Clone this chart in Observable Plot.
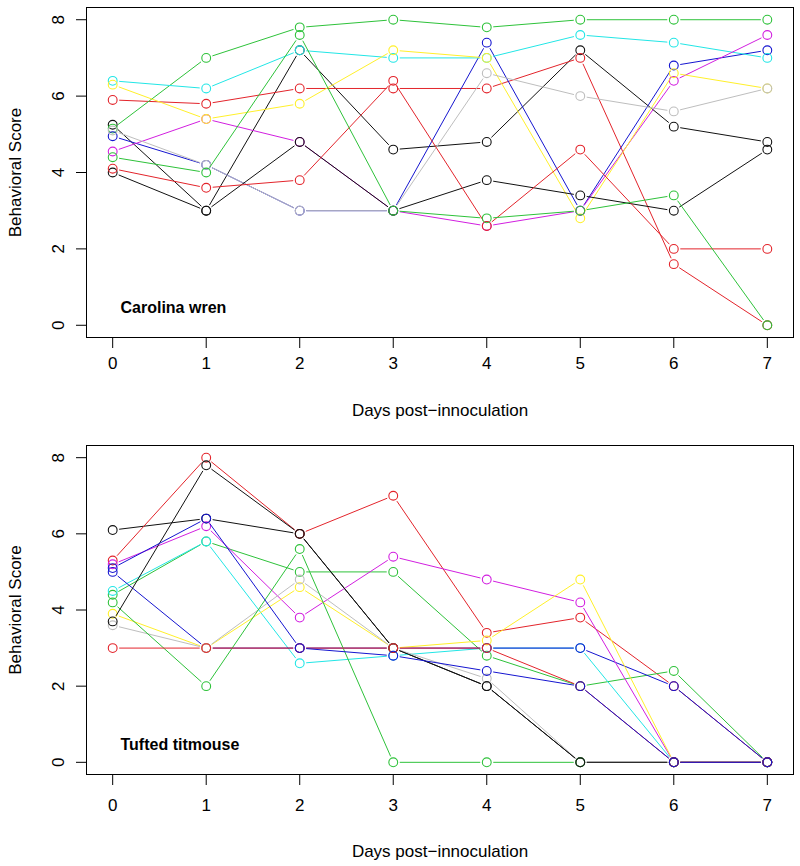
<!DOCTYPE html>
<html>
<head>
<meta charset="utf-8">
<script src="https://cdn.jsdelivr.net/npm/d3@7"></script>
<script src="https://cdn.jsdelivr.net/npm/@observablehq/plot@0.6"></script>
<style>
  html, body { margin: 0; padding: 0; background: #ffffff; }
  #chart svg { display: block; }
</style>
</head>
<body>
<div id="chart"></div>
<script>
// ---- data ----
const days = [0, 1, 2, 3, 4, 5, 6, 7];
const yTicks = [0, 2, 4, 6, 8];
const panelNames = ["Carolina wren", "Tufted titmouse"];
const xLabel = "Days post\u2212innoculation";
const yLabel = "Behavioral Score";

// R-like palette: black, red, green, blue, cyan, magenta, yellow, gray
const palette = ["#111111", "#E3242B", "#2EC23A", "#1515D0", "#22E6E6", "#D21FE0", "#FFF02A", "#BEBEBE"];

const wrenColorIdx = [0, 1, 2, 3, 4, 5, 6, 7, 0, 1, 2];
const wrenScores = [
  [5.25, 3.0, 7.2, 4.6, 4.8, 7.2, 5.2, 4.8],
  [5.9, 5.8, 6.2, 6.2, 6.2, 7.0, 1.6, 0.0],
  [5.15, 7.0, 7.8, 8.0, 7.8, 8.0, 8.0, 8.0],
  [4.95, 4.2, 3.0, 3.0, 7.4, 3.0, 6.8, 7.2],
  [6.4, 6.2, 7.2, 7.0, 7.0, 7.6, 7.4, 7.0],
  [4.55, 5.4, 4.8, 3.0, 2.6, 3.0, 6.4, 7.6],
  [6.3, 5.4, 5.8, 7.2, 7.0, 2.8, 6.6, 6.2],
  [5.1, 4.2, 3.0, 3.0, 6.6, 6.0, 5.6, 6.2],
  [4.0, 3.0, 4.8, 3.0, 3.8, 3.4, 3.0, 4.6],
  [4.1, 3.6, 3.8, 6.4, 2.6, 4.6, 2.0, 2.0],
  [4.4, 4.0, 7.6, 3.0, 2.8, 3.0, 3.4, 0.0]
];

const titColorIdx = [0, 1, 2, 4, 3, 5, 6, 7, 2, 0, 1, 3];
const titScores = [
  [6.1, 6.4, 6.0, 3.0, 2.0, 0.0, 0.0, 0.0],
  [5.3, 8.0, 6.0, 7.0, 3.4, 3.8, 2.0, 0.0],
  [4.4, 5.8, 5.0, 5.0, 2.8, 2.0, 2.4, 0.0],
  [4.5, 5.8, 2.6, 2.8, 3.0, 3.0, 0.0, 0.0],
  [5.0, 3.0, 3.0, 3.0, 3.0, 3.0, 2.0, 0.0],
  [5.2, 6.2, 3.8, 5.4, 4.8, 4.2, 0.0, 0.0],
  [3.9, 3.0, 4.6, 3.0, 3.2, 4.8, 0.0, 0.0],
  [3.6, 3.0, 4.8, 3.0, 2.2, 0.0, 0.0, 0.0],
  [4.2, 2.0, 5.6, 0.0, 0.0, 0.0, null, null],
  [3.7, 7.8, 6.0, 3.0, 2.0, 0.0, 0.0, 0.0],
  [3.0, 3.0, 3.0, 3.0, 3.0, 2.0, 0.0, 0.0],
  [5.1, 6.4, 3.0, 2.8, 2.4, 2.0, 0.0, 0.0]
];

// ---- layout per panel ----
const panels = [
  {name: panelNames[0], scores: wrenScores, colorIdx: wrenColorIdx,
   marginTop: 7, marginBottom: 96, tickPad: 8, titleDy: 73},
  {name: panelNames[1], scores: titScores, colorIdx: titColorIdx,
   marginTop: 12, marginBottom: 92, tickPad: 13, titleDy: 77}
];

function seriesMarks(scores, colorIdx) {
  const marks = [];
  scores.forEach((s, i) => {
    const color = palette[colorIdx[i]];
    const segs = [];
    const pts = [];
    for (let d = 0; d < days.length; d++) {
      if (s[d] != null) pts.push({day: days[d], v: s[d]});
      if (d < days.length - 1 && s[d] != null && s[d + 1] != null) {
        segs.push({x1: days[d], y1: s[d], x2: days[d + 1], y2: s[d + 1]});
      }
    }
    marks.push(Plot.arrow(segs, {
      x1: "x1", y1: "y1", x2: "x2", y2: "y2",
      stroke: color, strokeWidth: 1, headLength: 0,
      insetStart: 6.5, insetEnd: 6.5, strokeLinecap: "butt"
    }));
    marks.push(Plot.dot(pts, {
      x: "day", y: "v", r: 4.4, stroke: color, fill: "none", strokeWidth: 1.1
    }));
  });
  return marks;
}

const root = document.getElementById("chart");
panels.forEach(p => {
  const chart = Plot.plot({
    width: 800,
    height: 433,
    marginLeft: 86,
    marginRight: 7,
    marginTop: p.marginTop,
    marginBottom: p.marginBottom,
    style: {fontFamily: "'Liberation Sans', Arial, sans-serif", fontSize: "17px", color: "#000", background: "#fff"},
    x: {domain: [-0.28, 7.28]},
    y: {domain: [-0.32, 8.32]},
    marks: [
      ...seriesMarks(p.scores, p.colorIdx),
      Plot.frame({stroke: "#000", strokeWidth: 1}),
      Plot.axisX({ticks: days, tickSize: 11, tickPadding: p.tickPad, fontSize: 17, label: null, tickFormat: d3.format("d")}),
      Plot.axisY({ticks: yTicks, tickSize: 10, tickPadding: 13, tickRotate: -90, fontSize: 17, label: null, tickFormat: d3.format("d")}),
      Plot.text([xLabel], {frameAnchor: "bottom", dy: p.titleDy, textAnchor: "middle", lineAnchor: "middle", fontSize: 17, fill: "#000"}),
      Plot.text([yLabel], {frameAnchor: "left", dx: -71, rotate: -90, textAnchor: "middle", lineAnchor: "middle", fontSize: 17, fill: "#000"}),
      Plot.text([p.name], {frameAnchor: "bottom-left", dx: 34, dy: -30, textAnchor: "start", lineAnchor: "middle", fontSize: 16, fontWeight: "bold", fill: "#000"})
    ]
  });
  root.appendChild(chart);
});
</script>
</body>
</html>
